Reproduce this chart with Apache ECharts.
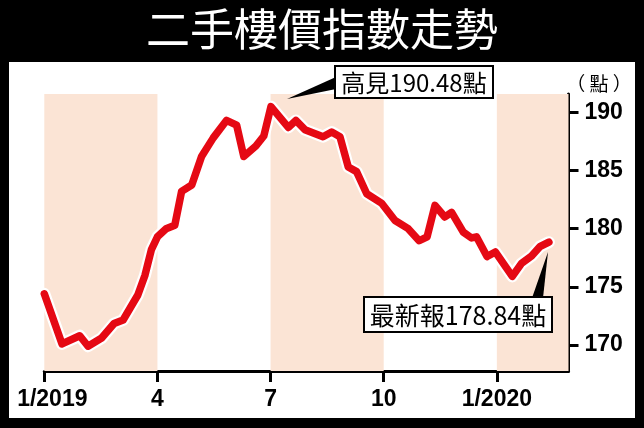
<!DOCTYPE html>
<html>
<head>
<meta charset="utf-8">
<script src="https://cdn.jsdelivr.net/npm/echarts@6/dist/echarts.min.js"></script>
<style>
html,body{margin:0;padding:0;background:#000;}
#c{width:644px;height:428px;}
</style>
</head>
<body>
<div id="c"></div>
<script>
// months since Jan 2019 (0 = start of Jan 2019)
const months = [0.00,0.47,0.94,1.16,1.52,1.85,2.09,2.48,2.67,2.84,3.00,3.23,3.46,3.64,3.91,4.17,4.48,4.83,5.10,5.29,5.61,5.82,6.01,6.47,6.67,6.91,7.39,7.62,7.84,8.06,8.28,8.55,8.94,9.30,9.65,9.94,10.15,10.36,10.62,10.80,11.11,11.33,11.46,11.74,11.96,12.41,12.65,12.92,13.14,13.38];
const indexValues = [174.4,170.1,170.8,169.9,170.6,171.85,172.15,174.3,176.0,178.2,179.3,180.0,180.3,183.2,183.75,186.2,187.8,189.3,188.9,186.2,187.1,187.96,190.48,188.7,189.3,188.5,187.9,188.3,187.9,185.3,184.9,183.0,182.2,180.7,180.0,178.96,179.3,182.0,181.0,181.4,179.7,179.2,179.3,177.6,178.0,175.9,177.0,177.65,178.45,178.84];
const xTickValues = [0,3,6,9,12];
const xTickLabels = ['1/2019','4','7','10','1/2020'];
const yTickValues = [170,175,180,185,190];
const shadedBands = [[0,3],[6,9],[12,13.9]];
const titleText = '二手樓價指數走勢';
const unitText = '（ 點 ）';
const peakLabel = '高見190.48點';
const latestLabel = '最新報178.84點';

const points = months.map((m,i)=>[m,indexValues[i]]);
const numFont = '"Liberation Sans",Arial,sans-serif';
const cjkFont = '"Noto Sans CJK TC","Noto Sans CJK SC",sans-serif';

const chart = echarts.init(document.getElementById('c'), null, {renderer:'canvas'});
chart.setOption({
  animation:false,
  backgroundColor:'#000',
  grid:{left:44.3, right:75.5, top:94, bottom:57, containLabel:false},
  xAxis:{
    type:'value', min:0, max:13.9,
    axisLine:{show:true, onZero:false, lineStyle:{color:'#000', width:3}},
    axisTick:{show:true, length:11, lineStyle:{color:'#000', width:3}, customValues:xTickValues},
    splitLine:{show:false},
    axisLabel:{
      customValues:xTickValues,
      margin:17,
      color:'#000', fontSize:23, fontWeight:'bold', fontFamily:numFont,
      formatter:function(v){
        const i = xTickValues.indexOf(v);
        if(i===0) return '{a|'+xTickLabels[0]+'}';
        return i>=0 ? xTickLabels[i] : '';
      },
      rich:{a:{padding:[0,0,0,16], color:'#000', fontSize:23, fontWeight:'bold', fontFamily:numFont}}
    }
  },
  yAxis:{
    type:'value', position:'right', min:167.77, max:191.57,
    axisLine:{show:true, onZero:false, lineStyle:{color:'#000', width:3}},
    axisTick:{show:true, length:10, lineStyle:{color:'#000', width:3}, customValues:yTickValues},
    splitLine:{show:false},
    axisLabel:{customValues:yTickValues, margin:16, color:'#000', fontSize:23, fontWeight:'bold', fontFamily:numFont}
  },
  series:[
    {
      type:'line', data:[], z:1, silent:true,
      markArea:{silent:true, itemStyle:{color:'#fbe4d5'},
        data: shadedBands.map(b=>[{xAxis:b[0]},{xAxis:b[1]}])}
    },
    {
      type:'line', data:points, symbol:'none', z:3, silent:true,
      lineStyle:{color:'#fff', width:12, cap:'round', join:'round'}
    },
    {
      type:'line', data:points, symbol:'none', z:4, silent:true,
      lineStyle:{color:'#e50914', width:7.5, cap:'round', join:'round'}
    }
  ],
  graphic:[
    {type:'rect', z:-10, shape:{x:9, y:62, width:626, height:356}, style:{fill:'#fff'}},
    {type:'text', z:10, x:322, y:29, style:{text:titleText, fill:'#fff', font:'normal 44px '+cjkFont, align:'center', verticalAlign:'middle'}},
    {type:'text', z:10, x:599, y:84, style:{text:unitText, fill:'#000', font:'normal 19px '+cjkFont, align:'center', verticalAlign:'middle'}},
    // peak callout
    {type:'polygon', z:20, shape:{points:[[287,99],[336,77],[336,89]]}, style:{fill:'#000'}},
    {type:'rect', z:21, shape:{x:335, y:66, width:158, height:32}, style:{fill:'#fff', stroke:'#000', lineWidth:2}},
    {type:'text', z:22, x:414, y:82.5, style:{text:peakLabel, fill:'#000', font:'normal 24px '+cjkFont, align:'center', verticalAlign:'middle'}},
    // latest callout
    {type:'polygon', z:20, shape:{points:[[548,252],[532,298],[543,298]]}, style:{fill:'#000'}},
    {type:'rect', z:21, shape:{x:364, y:297, width:188, height:35}, style:{fill:'#fff', stroke:'#000', lineWidth:2}},
    {type:'text', z:22, x:458, y:315, style:{text:latestLabel, fill:'#000', font:'normal 25px '+cjkFont, align:'center', verticalAlign:'middle'}}
  ]
});
</script>
</body>
</html>
